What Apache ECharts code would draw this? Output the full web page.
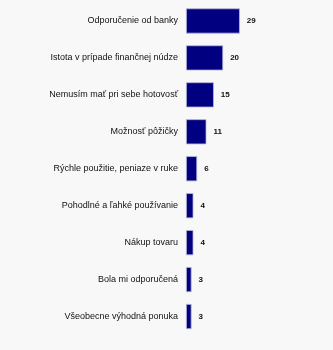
<!DOCTYPE html>
<html>
<head>
<meta charset="utf-8">
<script src="https://cdn.jsdelivr.net/npm/echarts@6/dist/echarts.min.js"></script>
<style>
  html, body { margin: 0; padding: 0; background: #f8f8f8; }
  #chart { width: 333px; height: 350px; }
</style>
</head>
<body>
<div id="chart"></div>
<script>
// kategórie odhora nadol
const categories = [
  'Odporučenie od banky',
  'Istota v prípade finančnej núdze',
  'Nemusím mať pri sebe hotovosť',
  'Možnosť pôžičky',
  'Rýchle použitie, peniaze v ruke',
  'Pohodlné a ľahké používanie',
  'Nákup tovaru',
  'Bola mi odporučená',
  'Všeobecne výhodná ponuka'
];
const values = [29, 20, 15, 11, 6, 4, 4, 3, 3];

const chart = echarts.init(document.getElementById('chart'));
chart.setOption({
  backgroundColor: '#f8f8f8',
  animation: false,
  grid: { left: 186, right: 17, top: 2.5, bottom: 15 },
  xAxis: {
    type: 'value',
    min: 0,
    max: 70,
    show: false
  },
  yAxis: {
    type: 'category',
    inverse: true,
    data: categories,
    axisLine: { show: false },
    axisTick: { show: false },
    axisLabel: {
      margin: 8,
      color: '#111',
      fontFamily: 'Liberation Sans, Arial, sans-serif',
      fontSize: 9
    }
  },
  series: [{
    type: 'bar',
    data: values,
    barCategoryGap: '32%',
    itemStyle: {
      color: '#000080',
      borderColor: '#b8b8d8',
      borderWidth: 0.8
    },
    label: {
      show: true,
      position: 'right',
      distance: 7,
      color: '#111',
      fontFamily: 'Liberation Sans, Arial, sans-serif',
      fontSize: 8,
      fontWeight: 'bold'
    }
  }]
});
</script>
</body>
</html>
